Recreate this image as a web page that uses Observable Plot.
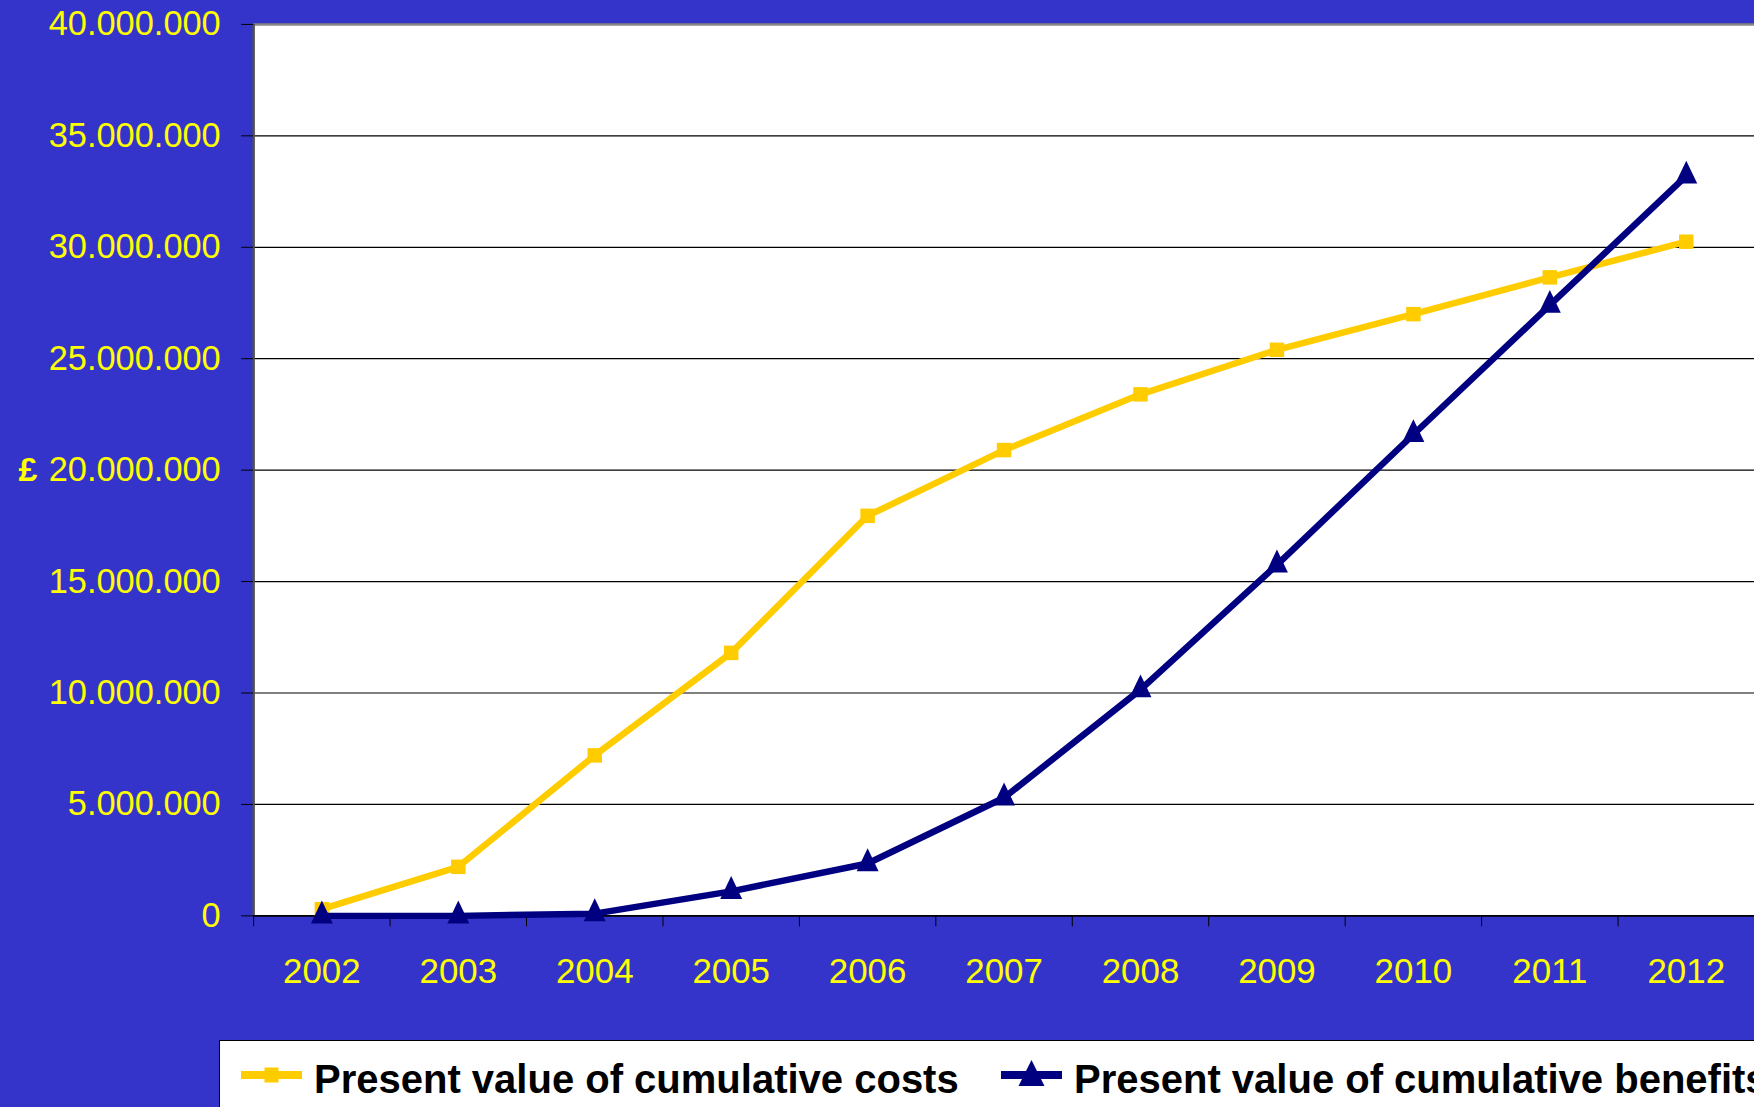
<!DOCTYPE html>
<html>
<head>
<meta charset="utf-8">
<script src="https://cdn.jsdelivr.net/npm/d3@7"></script>
<script src="https://cdn.jsdelivr.net/npm/@observablehq/plot@0.6"></script>
<style>
  html, body { margin: 0; padding: 0; background: #3434CA; overflow: hidden; width: 1754px; height: 1107px; }
  #chart svg { display: block; }
  #legend { position: absolute; left: 219px; top: 1040px; width: 1700px; height: 100px; background: #fff;
    border-top: 1.5px solid #000; border-left: 1.5px solid #000; box-sizing: border-box; }
  #legend svg { position: absolute; left: 0; top: 0; display: block; }
</style>
</head>
<body>
<div id="chart"></div>
<div id="legend"></div>
<script>
const years = [2002, 2003, 2004, 2005, 2006, 2007, 2008, 2009, 2010, 2011, 2012];
const costs = [300000, 2200000, 7200000, 11800000, 17950000, 20900000, 23400000, 25400000, 27000000, 28650000, 30250000];
const benefits = [0, 0, 100000, 1100000, 2350000, 5300000, 10150000, 15750000, 21600000, 27400000, 33200000];
const yTicks = [0, 5000000, 10000000, 15000000, 20000000, 25000000, 30000000, 35000000, 40000000];
const seriesNames = ["Present value of cumulative costs", "Present value of cumulative benefits"];
const yLabel = "£";

const YELLOW = "#FFCC00";
const NAVY = "#000080";
const LABEL = "#FFFF00";
const FONT = "'Liberation Sans', Arial, sans-serif";

const costData = years.map((y, i) => ({year: y, value: costs[i]}));
const benData = years.map((y, i) => ({year: y, value: benefits[i]}));
const bounds = d3.range(years[0] - 0.5, years[years.length - 1] + 1, 1);
const fmt = v => d3.format(",.0f")(v).replace(/,/g, ".");

function triangleSymbol(w, h) {
  return {draw(ctx) {
    ctx.moveTo(0, -2 * h / 3);
    ctx.lineTo(w / 2, h / 3);
    ctx.lineTo(-w / 2, h / 3);
    ctx.closePath();
  }};
}

const plot = Plot.plot({
  width: 1760,
  height: 1040,
  marginTop: 24,
  marginBottom: 121.5,
  marginLeft: 254,
  marginRight: 0,
  style: {background: "transparent", fontFamily: FONT, overflow: "visible"},
  x: {type: "linear", domain: [years[0] - 0.5, years[years.length - 1] + 0.5]},
  y: {domain: [0, 40000000]},
  marks: [
    Plot.frame({fill: "white", stroke: null}),
    Plot.gridY(yTicks, {stroke: "#000", strokeOpacity: 1, strokeWidth: 1.2}),
    Plot.ruleY([40000000], {stroke: "#888", strokeWidth: 2.5}),
    Plot.ruleX([years[0] - 0.5], {stroke: "#505050", strokeWidth: 2.5}),
    Plot.ruleY([0], {stroke: "#000", strokeWidth: 1.5}),
    Plot.axisY(yTicks, {tickSize: 12, tickPadding: 21, tickFormat: fmt, fill: LABEL, stroke: "#000",
      fontSize: 34.5, label: null}),
    Plot.axisX(bounds, {tickSize: 11, tickFormat: () => "", stroke: "#000", label: null}),
    Plot.axisX(years, {tickSize: 0, tickPadding: 43, tickFormat: d => String(d), fill: LABEL, fontSize: 35, label: null}),
    Plot.text([yLabel], {frameAnchor: "left", y: [20000000], dx: -236, fill: LABEL, fontSize: 34, fontWeight: "bold"}),
    Plot.line(costData, {x: "year", y: "value", stroke: YELLOW, strokeWidth: 6.5, strokeLinejoin: "miter"}),
    Plot.dot(costData, {x: "year", y: "value", symbol: "square", r: 8.2, fill: YELLOW, stroke: null}),
    Plot.line(benData, {x: "year", y: "value", stroke: NAVY, strokeWidth: 6.5, strokeLinejoin: "miter"}),
    Plot.dot(benData, {x: "year", y: "value", symbol: triangleSymbol(22, 23), r: 8, fill: NAVY, stroke: null})
  ]
});
document.getElementById("chart").appendChild(plot);

// legend (positions relative to legend box)
const lsvg = d3.select("#legend").append("svg").attr("width", 1700).attr("height", 100)
  .style("font-family", FONT);
const items = [
  {name: seriesNames[0], color: YELLOW, x0: 21, x1: 82, tx: 94, shape: "square"},
  {name: seriesNames[1], color: NAVY, x0: 781, x1: 842, tx: 854, shape: "triangle"}
];
items.forEach(it => {
  const cy = 34;
  lsvg.append("line").attr("x1", it.x0).attr("x2", it.x1).attr("y1", cy).attr("y2", cy)
    .attr("stroke", it.color).attr("stroke-width", 8);
  const cx = (it.x0 + it.x1) / 2;
  if (it.shape === "square") {
    lsvg.append("rect").attr("x", cx - 7).attr("y", cy - 7.5).attr("width", 14).attr("height", 15).attr("fill", it.color);
  } else {
    lsvg.append("path").attr("d", `M${cx},${cy - 15}L${cx + 13},${cy + 11}L${cx - 13},${cy + 11}Z`).attr("fill", it.color);
  }
  lsvg.append("text").attr("x", it.tx).attr("y", 52).attr("font-size", 40).attr("font-weight", "bold")
    .attr("fill", "#000").text(it.name);
});
</script>
</body>
</html>
